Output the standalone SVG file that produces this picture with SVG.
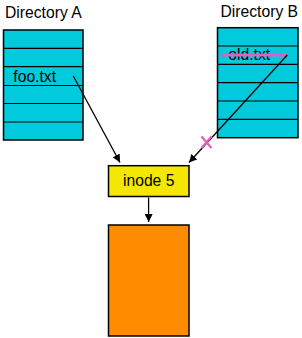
<svg xmlns="http://www.w3.org/2000/svg" width="302" height="338" viewBox="0 0 302 338">
<style>
text{font-family:"Liberation Sans",Arial,sans-serif;font-size:15.7px;fill:#000}
.dir{fill:#00cadb;stroke:#000;stroke-width:1.5}
.row{stroke:#000;stroke-width:1.2}
.con{stroke:#000;stroke-width:1.3;fill:none}
.pk{stroke:#e060c0}
</style>
<defs>
<marker id="ah" viewBox="0 0 10 10" refX="10" refY="5" markerWidth="8" markerHeight="8" markerUnits="userSpaceOnUse" orient="auto">
<path d="M0,0 L10,5 L0,10 z" fill="#000"/>
</marker>
</defs>
<g id="dirA">
<text x="5" y="18.3">Directory A</text>
<rect class="dir" x="3.5" y="30" width="79.5" height="110"/>
<line class="row" x1="3.5" y1="48.3" x2="83" y2="48.3"/>
<line class="row" x1="3.5" y1="66.7" x2="83" y2="66.7"/>
<line class="row" x1="3.5" y1="85.5" x2="83" y2="85.5" stroke-width="1.6"/>
<line class="row" x1="3.5" y1="103.5" x2="83" y2="103.5" stroke-width="1.6"/>
<line class="row" x1="3.5" y1="122" x2="83" y2="122"/>
<text x="13.3" y="81.7">foo.txt</text>
</g>
<g id="dirB">
<text x="220.5" y="16.7">Directory B</text>
<rect class="dir" x="217.5" y="27.7" width="80.5" height="110"/>
<line class="row" x1="217.5" y1="46" x2="298" y2="46"/>
<line class="row" x1="217.5" y1="64.3" x2="298" y2="64.3"/>
<line class="row" x1="217.5" y1="82.7" x2="298" y2="82.7"/>
<line class="row" x1="217.5" y1="101" x2="298" y2="101"/>
<line class="row" x1="217.5" y1="119.3" x2="298" y2="119.3"/>
<text x="228.3" y="60">old.txt</text>
<line class="pk" x1="220.7" y1="55" x2="287.3" y2="55" stroke-width="3"/>
</g>
<g id="connectors">
<line class="con" x1="73.3" y1="76" x2="120" y2="162.5" marker-end="url(#ah)"/>
<line class="con" x1="287.3" y1="55" x2="189" y2="162.5" marker-end="url(#ah)"/>
<line class="con" x1="148.6" y1="197.5" x2="148.6" y2="222" marker-end="url(#ah)"/>
<g class="pk" stroke-width="2.2">
<line x1="201.5" y1="136.5" x2="211.5" y2="148"/>
<line x1="201.5" y1="148" x2="211.5" y2="136.5"/>
</g>
</g>
<g id="inode">
<rect x="108.5" y="165.7" width="80.5" height="30.8" fill="#f5e800" stroke="#000" stroke-width="1.5"/>
<text x="148.7" y="185.5" text-anchor="middle">inode 5</text>
</g>
<g id="data">
<rect x="108.5" y="225" width="80.5" height="111" fill="#ff8c00" stroke="#000" stroke-width="1.5"/>
</g>
</svg>
